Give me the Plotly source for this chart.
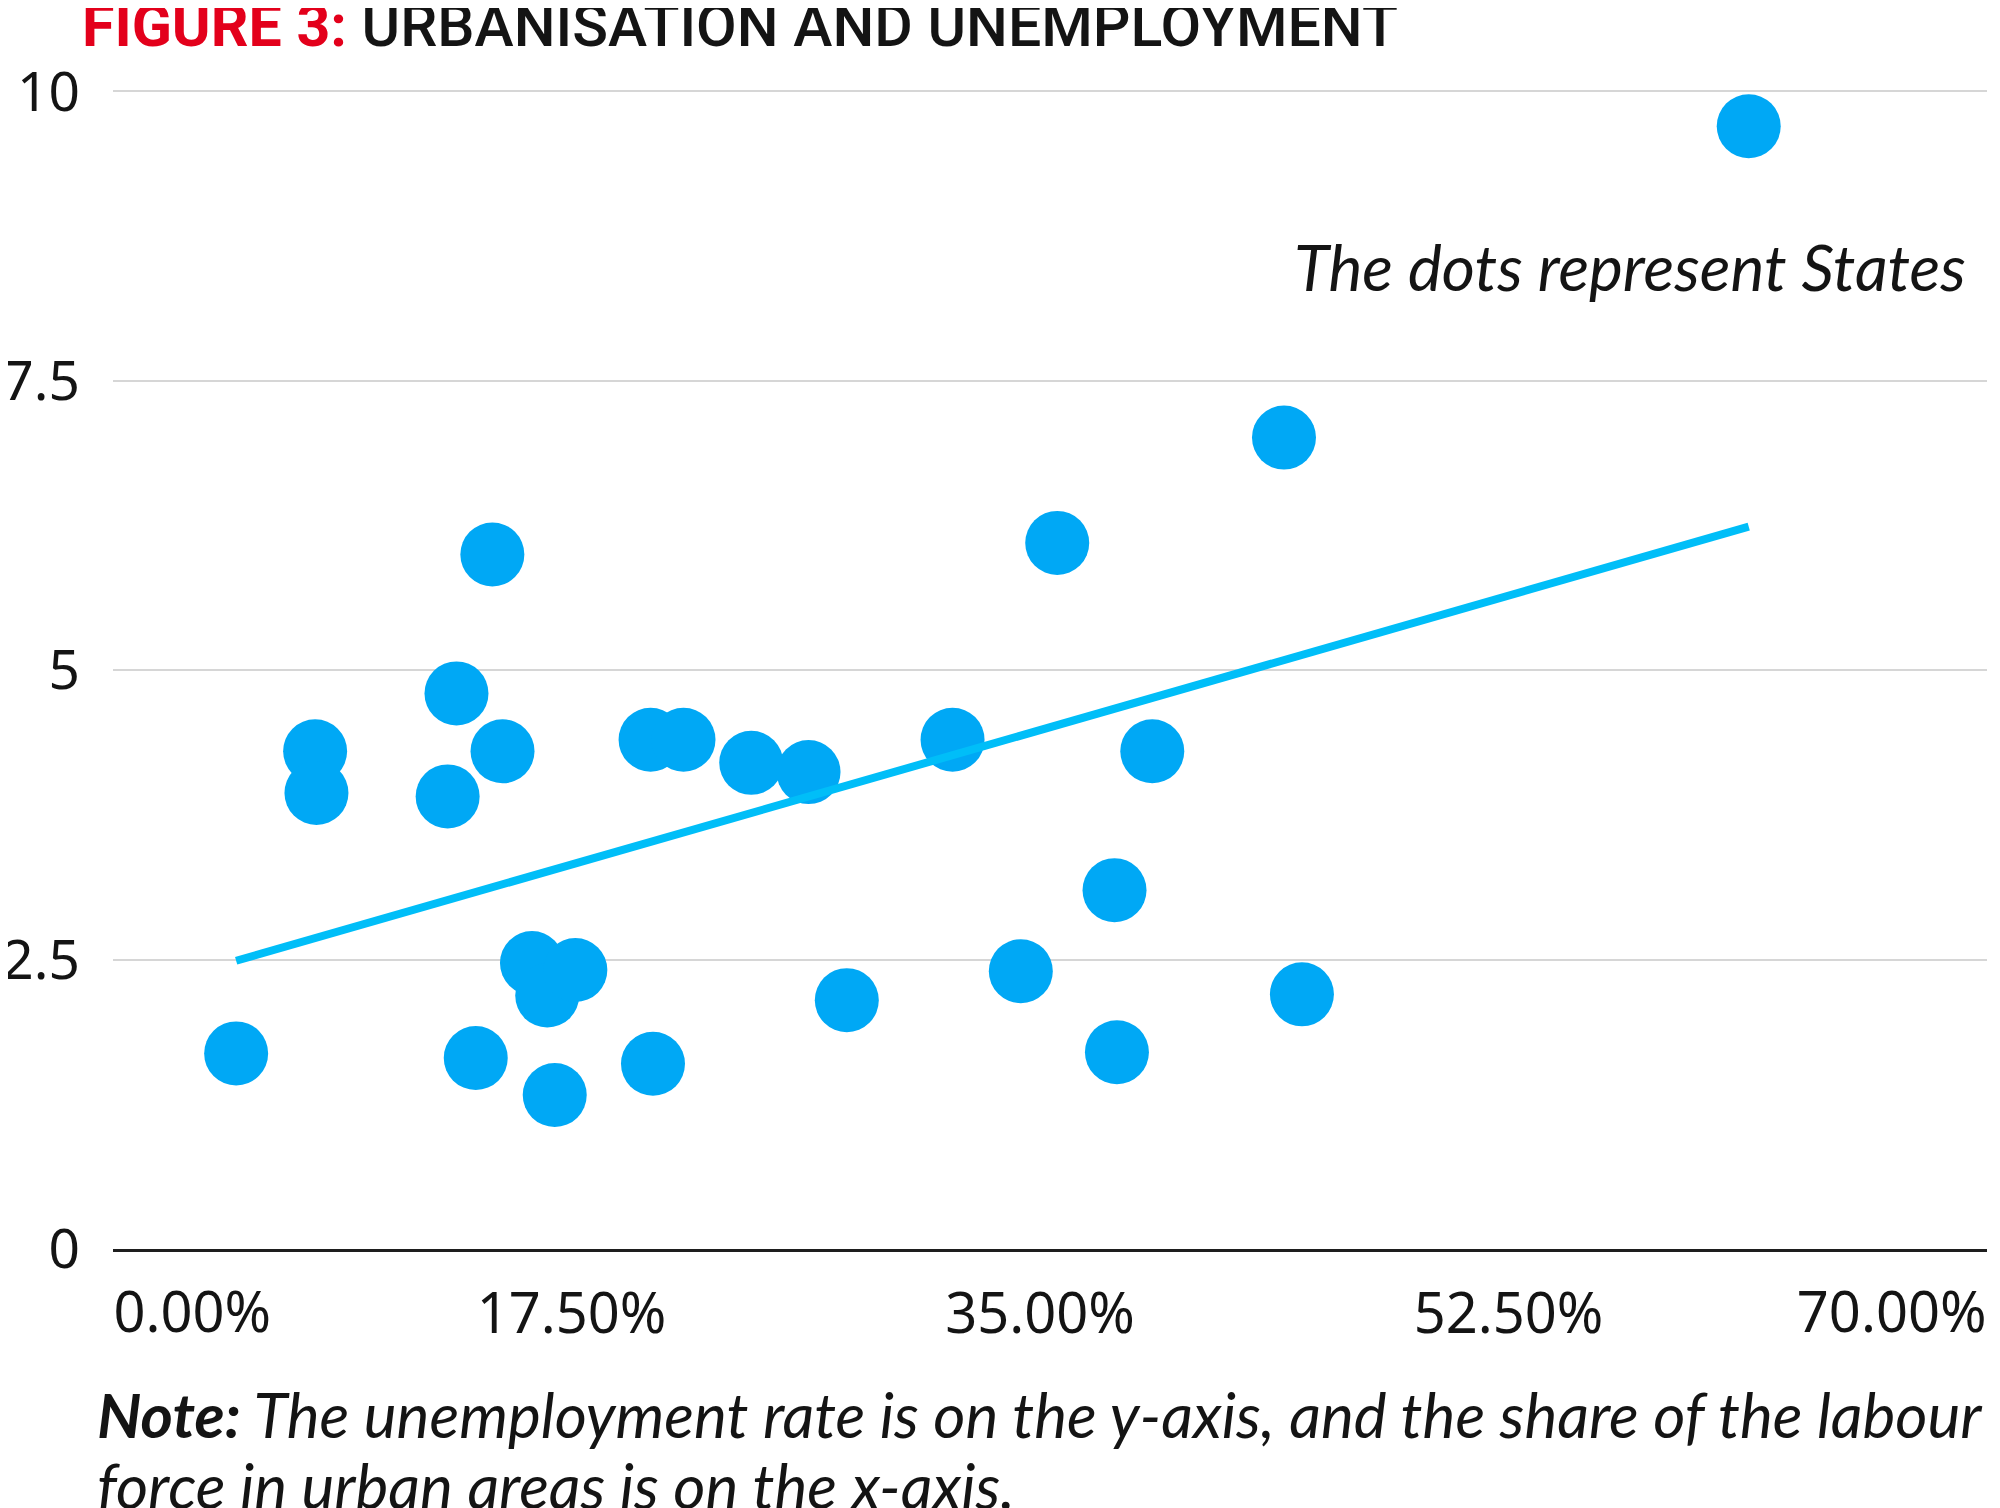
import plotly.graph_objects as go

# Share of labour force in urban areas (%) and unemployment rate, one per State
urban_share = [4.60, 7.55, 7.60, 12.50, 12.83, 14.17, 14.55, 13.55, 15.65, 16.22,
               17.27, 16.50, 20.08, 21.31, 20.17, 23.84, 25.98, 27.41, 31.36, 33.91,
               35.27, 37.41, 38.82, 37.50, 43.74, 44.41, 61.10]
unemployment = [1.69, 4.30, 3.94, 3.91, 4.80, 6.00, 4.30, 1.65, 2.47, 2.19,
                2.41, 1.33, 4.40, 4.40, 1.60, 4.20, 4.12, 2.15, 4.40, 2.40,
                6.10, 3.10, 4.30, 1.70, 7.01, 2.20, 9.70]

# Linear trend line as drawn in the chart (values read at its two ends)
trend_x = [min(urban_share), max(urban_share)]
trend_y = [2.49, 6.24]

x_tick_vals = [0, 17.5, 35, 52.5, 70]
x_tick_text = ["0.00%", "17.50%", "35.00%", "52.50%", "70.00%"]
y_tick_vals = [0, 2.5, 5, 7.5, 10]
y_tick_text = ["0", "2.5", "5", "7.5", "10"]

DOT = "#00A8F5"
LINE = "#00BEF8"
RED = "#E3001B"
INK = "#141414"
TICKFONT = dict(family="Noto Sans", size=56, color=INK)

fig = go.Figure()
fig.add_trace(go.Scatter(x=urban_share, y=unemployment, mode="markers",
                         marker=dict(size=64, color=DOT, line=dict(width=0)),
                         showlegend=False, hoverinfo="x+y"))
fig.add_trace(go.Scatter(x=trend_x, y=trend_y, mode="lines",
                         line=dict(color=LINE, width=8),
                         showlegend=False, hoverinfo="skip"))
# empty traces that carry the overlaid edge-label axes
fig.add_trace(go.Scatter(x=[], y=[], xaxis="x2", showlegend=False, hoverinfo="skip"))
fig.add_trace(go.Scatter(x=[], y=[], xaxis="x3", showlegend=False, hoverinfo="skip"))

xrange = [x_tick_vals[0], x_tick_vals[-1]]
common_x = dict(range=xrange, showgrid=False, zeroline=False, automargin=False,
                ticks="outside", tickcolor="rgba(0,0,0,0)",
                tickfont=TICKFONT, fixedrange=True)

fig.update_layout(
    width=2000, height=1508,
    margin=dict(l=105, r=21, t=80, b=267),
    paper_bgcolor="white", plot_bgcolor="white",
    xaxis=dict(**common_x, ticklen=14, tickmode="array", tickvals=x_tick_vals[1:-1],
               ticktext=x_tick_text[1:-1], showline=True, linecolor="#1e1e1e",
               linewidth=3, ticklabelshift=-10),
    xaxis2=dict(**common_x, ticklen=14, ticklabelstandoff=15, overlaying="x",
                anchor="y", side="bottom",
                tickmode="array", tickvals=x_tick_vals[:1], ticktext=x_tick_text[:1],
                ticklabelposition="outside right", showline=False),
    xaxis3=dict(**common_x, ticklen=14, ticklabelstandoff=15, overlaying="x",
                anchor="y", side="bottom",
                tickmode="array", tickvals=x_tick_vals[-1:], ticktext=x_tick_text[-1:],
                ticklabelposition="outside left", showline=False),
    yaxis=dict(range=[y_tick_vals[0], y_tick_vals[-1] + 0.03], tickmode="array",
               tickvals=y_tick_vals, ticktext=y_tick_text,
               showgrid=True, gridcolor="#D6D6D6", gridwidth=2,
               zeroline=False, showline=False, automargin=False,
               ticks="outside", ticklen=21, tickcolor="rgba(0,0,0,0)",
               tickfont=dict(family="Noto Sans", size=55, color=INK),
               fixedrange=True),
    annotations=[
        dict(text=f"<b><span style='color:{RED}'>FIGURE 3:</span></b> URBANISATION AND UNEMPLOYMENT",
             xref="paper", yref="paper", x=0, y=1, xanchor="left", yanchor="bottom",
             xshift=-33, yshift=26, showarrow=False,
             font=dict(family="Roboto", size=59, color=INK, weight=500)),
        dict(text="<i>The dots represent States</i>",
             xref="paper", yref="paper", x=1, y=0.846, xanchor="right", yanchor="middle",
             xshift=-19, showarrow=False,
             font=dict(family="Lato", size=64, color=INK)),
        dict(text="<i><b>Note:</b> The unemployment rate is on the y-axis, and the share of the labour</i>",
             xref="paper", yref="paper", x=0, y=0, xanchor="left", yanchor="top",
             xshift=-18, yshift=-126, align="left", showarrow=False,
             font=dict(family="Lato", size=62, color=INK)),
        dict(text="<i>force in urban areas is on the x-axis.</i>",
             xref="paper", yref="paper", x=0, y=0, xanchor="left", yanchor="top",
             xshift=-18, yshift=-197, align="left", showarrow=False,
             font=dict(family="Lato", size=62, color=INK)),
    ],
)

fig.write_html("out.html")
